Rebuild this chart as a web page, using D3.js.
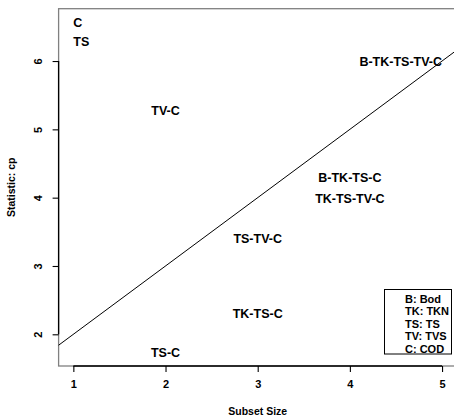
<!DOCTYPE html>
<html>
<head>
<meta charset="utf-8">
<script src="https://cdn.jsdelivr.net/npm/d3@7"></script>
<style>
  body { margin: 0; background: #fff; }
  text { font-family: "Liberation Sans", Arial, sans-serif; font-weight: bold; }
</style>
</head>
<body>
<script>
// subsets and their Mallows cp
var sizes  = [1, 1, 2, 2, 3, 3, 4, 4, 5];
var labels = ["C", "TS", "TV-C", "TS-C", "TS-TV-C", "TK-TS-C", "B-TK-TS-C", "TK-TS-TV-C", "B-TK-TS-TV-C"];
var cp     = [6.56, 6.28, 5.27, 1.73, 3.40, 2.30, 4.30, 3.99, 6.00];

var xTicks = [1, 2, 3, 4, 5];
var yTicks = [2, 3, 4, 5, 6];

var legendKeys  = ["B", "TK", "TS", "TV", "C"];
var legendNames = ["Bod", "TKN", "TS", "TVS", "COD"];

var w = 454;
var h = 419;

var x = d3.scaleLinear().domain([0.84, 5.16]).range([58.6, 456.8]);
var y = d3.scaleLinear().domain([1.536, 6.766]).range([366, 8.7]);

var svg = d3.select("body")
            .append("svg")
            .attr("width", w)
            .attr("height", h);

//gray frame
svg.append("rect")
   .attr("x", x(0.84))
   .attr("y", y(6.766))
   .attr("width", x(5.16) - x(0.84))
   .attr("height", y(1.536) - y(6.766))
   .attr("fill", "none")
   .attr("stroke", "#808080")
   .attr("stroke-width", 1.3);

//axes
var xAxis = d3.axisBottom(x).tickValues(xTicks).tickSize(6).tickPadding(6).tickFormat(d3.format("d"));
var gx = svg.append("g").attr("transform", "translate(0," + y(1.536) + ")").call(xAxis);
gx.select(".domain").attr("d", "M" + x(1) + ",0H" + x(5));

var yAxis = d3.axisLeft(y).tickValues(yTicks).tickSize(6).tickFormat(d3.format("d"));
var gy = svg.append("g").attr("transform", "translate(" + x(0.84) + ",0)").call(yAxis);
gy.select(".domain").attr("d", "M0," + y(2) + "V" + y(6));

svg.selectAll(".domain").attr("stroke", "#000").attr("stroke-width", 1.3);
svg.selectAll(".tick line").attr("stroke", "#000").attr("stroke-width", 1.1);
gx.selectAll(".tick text").attr("font-size", 11).attr("font-family", null).attr("dy", "0.9em");
gy.selectAll(".tick text")
  .attr("font-size", 11).attr("font-family", null)
  .attr("x", null).attr("y", null)
  .attr("dy", "0.35em")
  .attr("text-anchor", "middle")
  .attr("transform", "translate(-20,0) rotate(-90)");

//reference line cp = p
svg.append("line")
   .attr("x1", x(0.84)).attr("y1", y(0.84 + 1))
   .attr("x2", x(5.16)).attr("y2", y(5.16 + 1))
   .attr("stroke", "#000")
   .attr("stroke-width", 1);

//subset labels
svg.selectAll("text.lab")
   .data(labels)
   .enter()
   .append("text")
   .attr("class", "lab")
   .attr("x", function(d, i) { return x(sizes[i]); })
   .attr("y", function(d, i) { return y(cp[i]); })
   .attr("dy", "0.36em")
   .attr("font-size", 12.5)
   .attr("text-anchor", function(d, i) {
     if (sizes[i] == 1) return "start";
     if (sizes[i] == 5) return "end";
     return "middle";
   })
   .text(function(d) { return d; });

//axis titles
svg.append("text")
   .attr("x", (x(0.84) + x(5.16)) / 2)
   .attr("y", 415)
   .attr("text-anchor", "middle")
   .attr("font-size", 10.5)
   .text("Subset Size");

svg.append("text")
   .attr("transform", "translate(15," + (y(1.536) + y(6.766)) / 2 + ") rotate(-90)")
   .attr("text-anchor", "middle")
   .attr("font-size", 10.5)
   .text("Statistic: cp");

//legend
var lg = svg.append("g");
lg.append("rect")
  .attr("x", 384.5).attr("y", 289.5)
  .attr("width", 67).attr("height", 64.5)
  .attr("fill", "#fff")
  .attr("stroke", "#000")
  .attr("stroke-width", 1);
lg.selectAll("text")
  .data(legendKeys)
  .enter()
  .append("text")
  .attr("x", 405)
  .attr("y", function(d, i) { return 299 + i * 12.5; })
  .attr("dy", "0.36em")
  .attr("font-size", 11)
  .text(function(d, i) { return d + ": " + legendNames[i]; });
</script>
</body>
</html>
